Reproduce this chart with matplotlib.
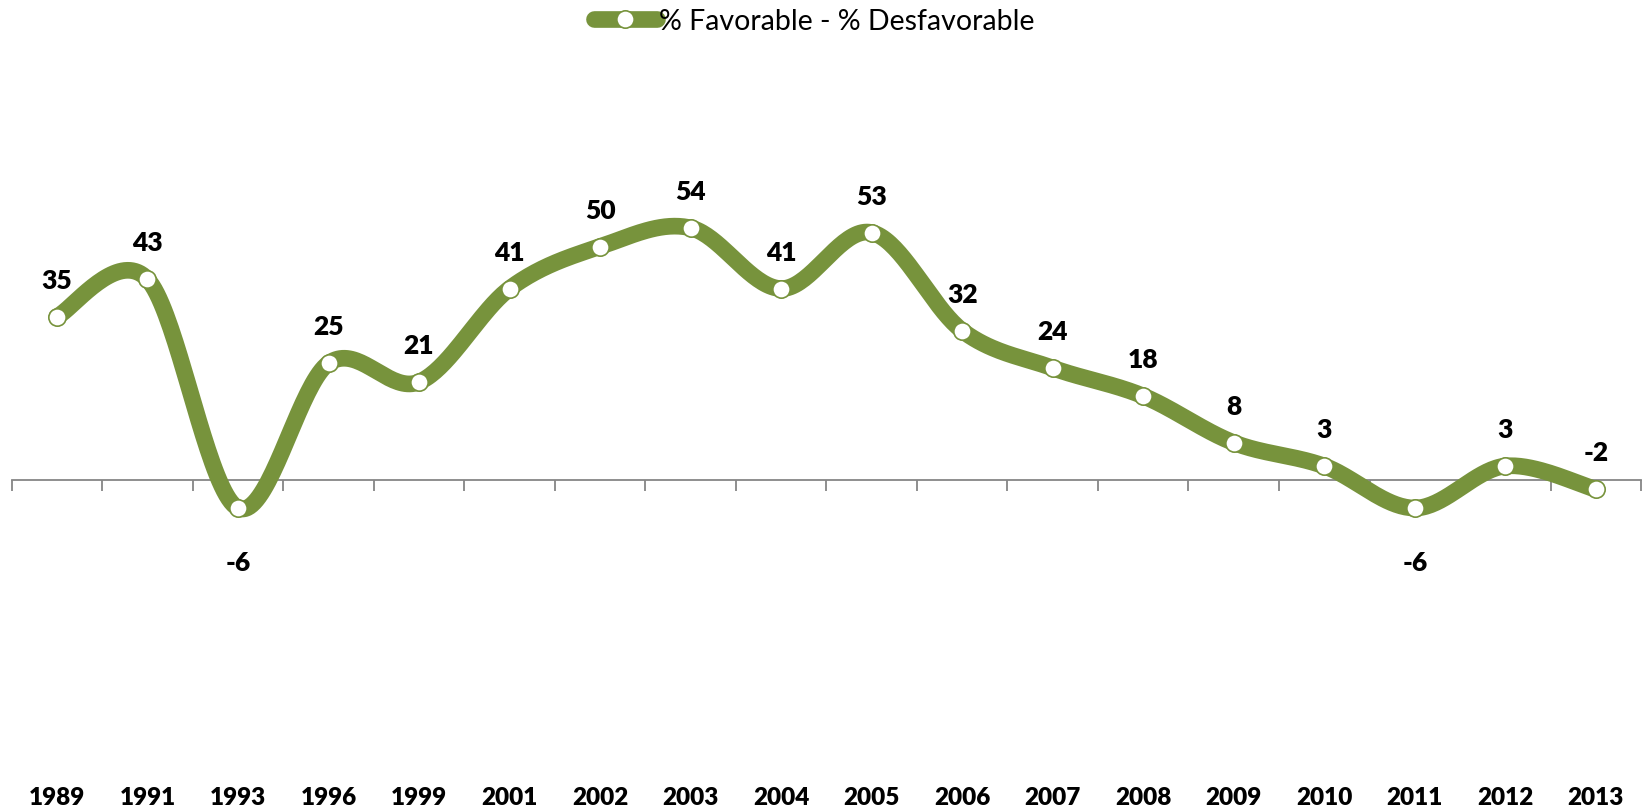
import numpy as np
import matplotlib.pyplot as plt
from matplotlib.lines import Line2D
import matplotlib.transforms as mtransforms

plt.rcParams['font.family'] = ['Lato', 'DejaVu Sans']

years = ["1989", "1991", "1993", "1996", "1999", "2001", "2002", "2003", "2004",
         "2005", "2006", "2007", "2008", "2009", "2010", "2011", "2012", "2013"]
values = [35, 43, -6, 25, 21, 41, 50, 54, 41, 53, 32, 24, 18, 8, 3, -6, 3, -2]
series_name = "% Favorable - % Desfavorable"

GREEN = "#77933C"
AXIS_GRAY = "#868686"


def smooth_curve(ys, steps=40):
    # excel style smoothing: bezier pieces with catmull-rom control points
    pts = np.column_stack([np.arange(len(ys), dtype=float), np.array(ys, dtype=float)])
    ext = np.vstack([pts[0], pts, pts[-1]])
    t = np.linspace(0, 1, steps)[:, None]
    out = []
    for i in range(len(pts) - 1):
        p0, p1, p2, p3 = ext[i], ext[i + 1], ext[i + 2], ext[i + 3]
        c1 = p1 + (p2 - p0) / 6
        c2 = p2 - (p3 - p1) / 6
        seg = ((1 - t) ** 3) * p1 + 3 * ((1 - t) ** 2) * t * c1 + 3 * (1 - t) * t ** 2 * c2 + t ** 3 * p2
        out.append(seg if i == 0 else seg[1:])
    out = np.vstack(out)
    return out[:, 0], out[:, 1]


fig = plt.figure(figsize=(16.52, 8.12), dpi=100)
ax = fig.add_axes([0.00708, 0.0626, 0.9863, 0.805])
n = len(values)
x = np.arange(n)

ax.set_xlim(-0.5, n - 0.5)
ax.set_ylim(-60, 80)

sx, sy = smooth_curve(values)
ax.plot(sx, sy, color=GREEN, lw=12, solid_capstyle='round', zorder=3)
ax.plot(x, values, ls='none', marker='o', ms=12.5, mfc='white', mec=GREEN, mew=1.2, zorder=4)

# axis line through zero with tick marks at category boundaries
for s in ['top', 'right', 'left']:
    ax.spines[s].set_visible(False)
ax.spines['bottom'].set_position(('data', 0))
ax.spines['bottom'].set_color(AXIS_GRAY)
ax.spines['bottom'].set_linewidth(1.3)
ax.set_xticks(np.arange(-0.5, n, 1.0))
ax.set_xticklabels([])
ax.tick_params(axis='x', direction='out', length=8, width=1.3, color=AXIS_GRAY)
ax.set_yticks([])

# category labels at the bottom
trans = mtransforms.blended_transform_factory(ax.transData, ax.transAxes)
for xi, yr in zip(x, years):
    ax.text(xi, -0.056, yr, transform=trans, ha='center', va='center',
            fontsize=17.5, fontweight='heavy', color='black')

# data labels
for xi, v in zip(x, values):
    below = v == -6
    off = -54 if below else 37
    ax.annotate(str(v), (xi, v), xytext=(0, off), textcoords='offset pixels',
                ha='center', va='center', fontsize=19, fontweight='heavy', color='black')

handle = Line2D([], [], color=GREEN, lw=12, solid_capstyle='round', marker='o',
                ms=12.5, mfc='white', mec=GREEN, mew=1.2)
fig.legend([handle], [series_name], loc='upper center', bbox_to_anchor=(0.493, 1.02),
           frameon=False, fontsize=20.5, handlelength=2.2, handletextpad=0.1)

fig.savefig("out.png", dpi=100)
